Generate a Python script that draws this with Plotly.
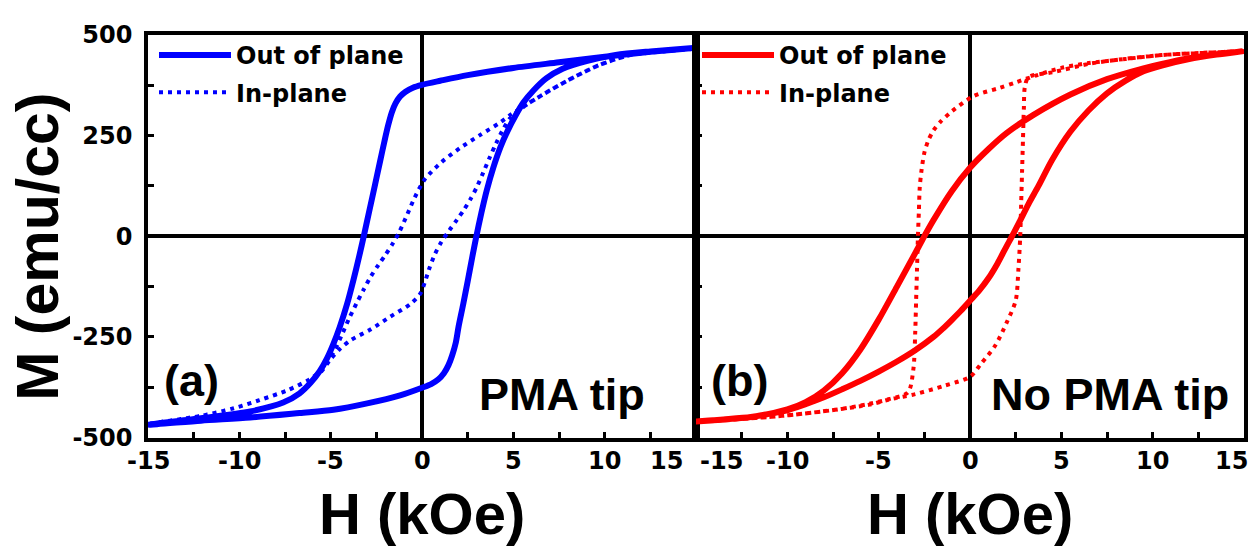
import plotly.graph_objects as go

# ---------------- data: hysteresis branches (H in kOe, M in emu/cc) ----------------
# (a) PMA tip - out-of-plane loop
a_oop_down_h = [15, 12.5, 10, 7.5, 5, 2.5, 1.0, 0, -0.5, -0.9, -1.2, -1.45, -1.65, -1.85,
                -2.05, -2.3, -2.6, -2.9, -3.15, -3.45, -3.75, -4.1, -4.5, -4.85, -5.2, -5.6,
                -6.1, -6.7, -7.6, -9.4, -12.1, -15]
a_oop_down_m = [468, 458, 446, 432, 418, 400, 386, 376, 369, 359, 347, 330, 308, 276,
                237, 185, 122, 60, 8, -52, -108, -168, -225, -267, -303, -335,
                -364, -390, -413, -435, -452, -468]
a_oop_up_h = [-15, -12.1, -9.4, -6.7, -4.85, -3.0, -1.2, 0, 0.5, 0.9, 1.2, 1.45, 1.65, 1.85,
              2.0, 2.25, 2.5, 2.75, 2.95, 3.25, 3.55, 3.9, 4.3, 4.7, 5.1, 5.55, 6.1, 6.8,
              7.7, 9.0, 10.6, 12.5, 15]
a_oop_up_m = [-468, -458, -450, -439, -431, -415, -395, -376, -367, -355, -340, -320, -296, -264,
              -225, -170, -112, -52, -6, 58, 115, 170, 222, 263, 298, 332, 362, 392,
              416, 435, 450, 459, 468]

# (a) PMA tip - in-plane loop
a_ip_down_h = [15, 12.5, 11.4, 9.7, 7.9, 6.4, 5.7, 4.8, 4.26, 3.17, 2.08, 1.07, 0.16, -0.4,
               -0.8, -1.25, -1.6, -2.0, -2.4, -2.8, -3.2, -3.6, -4.0, -4.4, -4.8, -5.2, -5.6,
               -6.2, -7.4, -8.9, -10.3, -12.1, -15]
a_ip_down_m = [466, 456, 450, 425, 385, 346, 326, 300, 282, 251, 219, 184, 142, 96,
               55, 10, -18, -46, -72, -100, -133, -168, -205, -246, -285, -312, -336,
               -357, -383, -407, -427, -446, -466]
a_ip_up_h = [-15, -12.1, -10.3, -8.9, -7.4, -6.2, -5.6, -5.0, -4.5, -3.9, -2.8, -1.75, -0.66,
             -0.1, 0.15, 0.4, 0.7, 1.05, 1.5, 1.9, 2.3, 2.65, 3.0, 3.35, 3.7, 4.05, 4.4,
             4.8, 5.7, 6.4, 7.9, 9.7, 11.4, 12.5, 15]
a_ip_up_m = [-466, -446, -427, -407, -383, -357, -340, -305, -280, -258, -231, -200, -169,
             -143, -115, -80, -45, -15, 15, 40, 66, 92, 122, 158, 195, 230, 262,
             292, 326, 346, 385, 425, 450, 456, 466]

# (b) No PMA tip - out-of-plane loop
b_oop_down_h = [15, 13.5, 12, 10.5, 9.5, 7.5, 5.5, 3.5, 2.0, 1.0, 0, -1.0, -2.0, -2.5,
                -3.0, -4.0, -5.0, -6.0, -7.0, -8.0, -9.0, -10, -12, -15]
b_oop_down_m = [460, 452, 442, 428, 417, 390, 352, 302, 256, 216, 170, 112, 40, 0,
                -42, -125, -207, -281, -340, -383, -412, -430, -449, -460]
b_oop_up_h = [-15, -13.5, -12, -11, -10, -9, -8, -7, -6, -5, -4, -3, -2, -1.5, -1.0, -0.5,
              0, 0.5, 1.0, 1.5, 2.0, 2.3, 2.7, 3.2, 3.75, 4.5, 5.5, 6.5, 7.5, 8.5, 9.5,
              10.5, 12, 13.5, 15]
b_oop_up_m = [-460, -455, -449, -441, -432, -417, -400, -380, -359, -336, -311, -283, -250,
              -230, -208, -185, -160, -135, -105, -68, -25, 0, 35, 80, 125, 190, 260, 313,
              355, 386, 410, 424, 440, 451, 460]

# (b) No PMA tip - in-plane loop
b_ip_down_h = [15, 13, 10.5, 8.5, 6.5, 5.0, 3.6, 2.5, 1.6, 0.2, -1.0, -1.6, -2.0, -2.3,
               -2.5, -2.65, -2.75, -2.8, -2.85, -2.9, -2.95, -3.0, -3.1, -3.4, -4.4, -5.5,
               -7.4, -10.3, -13.3, -15]
b_ip_down_m = [460, 456, 450, 440, 430, 418, 399, 382, 368, 348, 310, 285, 263, 236,
               207, 165, 122, 60, 0, -80, -160, -240, -330, -388, -404, -416,
               -431, -446, -456, -460]
b_ip_up_h = [-15, -13.3, -10.3, -7.4, -5.5, -4.4, -3.0, -1.4, 0, 0.6, 1.4, 2.0, 2.5, 2.65,
             2.75, 2.8, 2.85, 2.9, 2.95, 3.0, 3.2, 4.5, 6.5, 7.5, 10.5, 13, 15]
b_ip_up_m = [-460, -456, -446, -431, -418, -405, -392, -371, -349, -317, -270, -215, -160, -82,
             0, 80, 160, 240, 320, 370, 395, 407, 428, 435, 450, 456, 460]

# axis ticks / labels
x_label_vals = [-15, -10, -5, 0, 5, 10, 15]
x_label_pos_a = [-15, -10, -5, 0, 5, 10, 13.4]   # end label pulled in
x_label_pos_b = [-13.6, -10, -5, 0, 5, 10, 14.3]
y_tick_vals = [-500, -250, 0, 250, 500]
y_tick_text = ["-500", "-250", "0", "250", "500"]

series_names = ["Out of plane", "In-plane"]
panel_tags = ["(a)", "(b)"]
panel_notes = ["PMA tip", "No PMA tip"]

BLUE = "#0000ff"
RED = "#ff0000"
SMALL = dict(family="DejaVu Sans", size=24, color="black", weight="bold")
BIG = dict(family="Liberation Sans", size=45, color="black", weight="bold")
TITLE = dict(family="Liberation Sans", size=58, color="black", weight="bold")


def loop(h_down, m_down, h_up, m_up):
    """Join descending and ascending branches into one closed path."""
    return h_down + h_up[1:], m_down + m_up[1:]


fig = go.Figure()

panels = [
    ("x", "y", "legend", BLUE,
     loop(a_oop_down_h, a_oop_down_m, a_oop_up_h, a_oop_up_m),
     loop(a_ip_down_h, a_ip_down_m, a_ip_up_h, a_ip_up_m)),
    ("x2", "y2", "legend2", RED,
     loop(b_oop_down_h, b_oop_down_m, b_oop_up_h, b_oop_up_m),
     loop(b_ip_down_h, b_ip_down_m, b_ip_up_h, b_ip_up_m)),
]

for xa, ya, leg, color, oop, ip in panels:
    fig.add_trace(go.Scatter(
        x=oop[0], y=oop[1], mode="lines", name=series_names[0],
        legendgroup=xa + "oop",
        line=dict(color=color, width=6, shape="spline", smoothing=0.8),
        xaxis=xa, yaxis=ya, legend=leg, hoverinfo="skip"))
    fig.add_trace(go.Scatter(
        x=ip[0], y=ip[1], mode="lines", name=series_names[1],
        legendgroup=xa + "ip",
        line=dict(color=color, width=4, dash="4px,5px", shape="spline", smoothing=0.8),
        xaxis=xa, yaxis=ya, legend=leg, hoverinfo="skip"))

axis_style = dict(
    showline=True, linewidth=3.5, linecolor="black", mirror=True,
    ticks="inside", ticklen=6, tickwidth=3, tickcolor="black",
    showgrid=False, zeroline=True, zerolinecolor="black", zerolinewidth=3.5,
)
x_style = dict(axis_style, range=[-15, 15], tickmode="linear", tick0=0, dtick=5,
               showticklabels=False,
               minor=dict(tick0=0, dtick=2.5, ticks="inside", ticklen=6, tickwidth=3,
                          tickcolor="black"))
y_style = dict(axis_style, range=[-500, 500], tickmode="array",
               tickvals=y_tick_vals, ticktext=y_tick_text,
               minor=dict(tick0=0, dtick=125, ticks="inside", ticklen=6, tickwidth=3,
                          tickcolor="black"))

dom_a = [148 / 1260, 696 / 1260]
dom_b = [696 / 1260, 1244 / 1260]
dom_y = [1 - 446 / 558, 1 - 22 / 558]

legend_style = dict(
    xanchor="left", yanchor="top", bgcolor="rgba(0,0,0,0)", borderwidth=0,
    font=SMALL, itemwidth=72, traceorder="grouped", tracegroupgap=3,
)

fig.update_layout(
    width=1260, height=558, autosize=False,
    margin=dict(l=0, r=0, t=0, b=0),
    paper_bgcolor="white", plot_bgcolor="white",
    xaxis=dict(x_style, domain=dom_a, anchor="y"),
    yaxis=dict(y_style, domain=dom_y, anchor="x", showticklabels=True,
               tickfont=SMALL, ticklabelstandoff=7),
    xaxis2=dict(x_style, domain=dom_b, anchor="y2"),
    yaxis2=dict(y_style, domain=dom_y, anchor="x2", showticklabels=False),
    legend=dict(legend_style, x=154 / 1260, y=1 - 20 / 558),
    legend2=dict(legend_style, x=697 / 1260, y=1 - 20 / 558),
    showlegend=True,
)

annotations = []
for xref, positions in (("x", x_label_pos_a), ("x2", x_label_pos_b)):
    for val, pos in zip(x_label_vals, positions):
        annotations.append(dict(
            x=pos, y=1 - 471 / 558, xref=xref, yref="paper", text=str(val),
            showarrow=False, font=SMALL, xanchor="center", yanchor="middle"))

for i, xref in enumerate(("x", "x2")):
    yref = "y" if xref == "x" else "y2"
    annotations.append(dict(
        x=-12.6, y=-357, xref=xref, yref=yref, text=panel_tags[i],
        showarrow=False, font=BIG, xanchor="center", yanchor="middle"))
    annotations.append(dict(
        x=7.65, y=-392, xref=xref, yref=yref, text=panel_notes[i],
        showarrow=False, font=BIG, xanchor="center", yanchor="middle"))
    annotations.append(dict(
        x=0.5, y=1 - 526 / 558, xref=f"{xref} domain", yref="paper", text="H (kOe)",
        showarrow=False, font=TITLE, xanchor="center", yanchor="middle"))

annotations.append(dict(
    x=38 / 1260, y=1 - 245 / 558, xref="paper", yref="paper", text="M (emu/cc)",
    textangle=-90, showarrow=False, font=dict(TITLE, size=59),
    xanchor="center", yanchor="middle"))

fig.update_layout(annotations=annotations)

fig.write_html("out.html")
